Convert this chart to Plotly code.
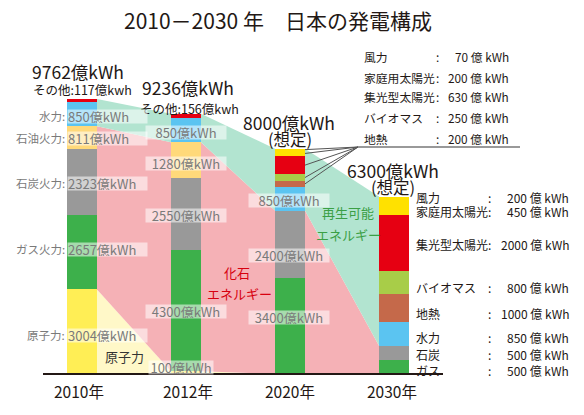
import plotly.graph_objects as go

# data (億kWh)
years = ["2010年", "2012年", "2020年", "2030年"]
totals = [9762, 9236, 8000, 6300]
nuclear = [3004, 100, 0, 0]
gas = [2657, 4300, 3400, 500]
coal = [2323, 2550, 2400, 500]
oil = [811, 1280, 0, 0]
hydro = [850, 850, 850, 850]
geothermal = [0, 0, 200, 1000]
biomass = [0, 0, 250, 800]
solar_cs = [0, 0, 630, 2000]
solar_home = [0, 0, 200, 450]
wind = [0, 0, 70, 200]
other = [117, 156, 0, 0]

FONT = "Noto Sans CJK JP"
W, H = 584, 415
OFF = 8               # page body margin
PX_CAT = 104          # px between bar centres
KWH_PX = 35.5         # 億kWh per px
BAR0 = 82             # px of first bar centre
Y_BASE = 374          # px of baseline
BW = 30 / PX_CAT

def px_x(px):
    return (px - BAR0) / PX_CAT

def px_y(py):
    return (Y_BASE - py) * KWH_PX

pos = list(range(len(years)))
segments = [
    (nuclear, "#FFEE55"), (gas, "#3DB04B"), (coal, "#999999"), (oil, "#FFD97A"),
    (hydro, "#5BC4F1"), (geothermal, "#C5694A"), (biomass, "#A8CD48"),
    (solar_cs, "#E60012"), (solar_home, "#FFE100"), (wind, "#FFE100"),
    (other, "#E60012"),
]

fig = go.Figure()

# shaded bands between bars
zeros = [0] * 4
fossil_top = [n + g + c + o for n, g, c, o in zip(nuclear, gas, coal, oil)]
top = [sum(s[0][i] for s in segments) for i in pos]
bands = [(zeros, nuclear, "#FFF8C8"), (nuclear, fossil_top, "#F5B1B6"), (fossil_top, top, "#B2E4D0")]
for i in pos[:-1]:
    xa, xb = pos[i] + BW / 2, pos[i + 1] - BW / 2
    for lo, hi, col in bands:
        fig.add_trace(go.Scatter(x=[xa, xa, xb, xb], y=[lo[i], hi[i], hi[i + 1], lo[i + 1]],
                                 fill="toself", fillcolor=col, mode="none", hoverinfo="skip"))

for vals, col in segments:
    fig.add_trace(go.Bar(x=pos, y=vals, width=BW, marker_color=col, marker_line_width=0))

# leader lines for 2020 small items
cum = 0
mids = []
for vals, col in segments:
    mids.append(cum + vals[2] / 2)
    cum += vals[2]
for k in [5, 6, 7, 8, 9]:
    fig.add_trace(go.Scatter(x=[2 + BW / 2, px_x(358)], y=[mids[k], px_y(147)], mode="lines",
                             line=dict(color="#555", width=1), hoverinfo="skip"))
fig.add_trace(go.Scatter(x=[px_x(358), px_x(520)], y=[px_y(147), px_y(147)], mode="lines",
                         line=dict(color="#777", width=1.5), hoverinfo="skip"))

fig.add_shape(type="line", x0=px_x(43), x1=px_x(443), y0=0, y1=0, line=dict(color="#231815", width=2))

anns = []

def ann(px, py, text, size=13, color="#231815", xanchor="center", **kw):
    anns.append(dict(x=(px - OFF) / W, y=1 - (py - OFF) / H, xref="paper", yref="paper", text=text,
                     showarrow=False, xanchor=xanchor, yanchor="middle",
                     font=dict(family=FONT, size=size, color=color), **kw))

BOX = dict(bgcolor="rgba(255,255,255,0.55)", borderpad=0, height=13)
GRAY = "#7a7a7a"

ann(278, 20, "2010－2030 年　日本の発電構成", 21)
ann(78, 72, f"{totals[0]}億kWh", 17.5)
ann(82, 89, f"その他:{other[0]}億kwh", 12.5)
ann(188, 88, f"{totals[1]}億kWh", 17.5)
ann(189, 108, f"その他:{other[1]}億kwh", 12.5)
ann(289, 122, f"{totals[2]}億kWh", 17.5)
ann(290, 139, "(想定)", 16.5)
ann(393, 170, f"{totals[3]}億kWh", 17.5)
ann(393, 187, "(想定)", 16.5)

# 2010 labels
for name, v, py in [("水力", hydro[0], 116), ("石油火力", oil[0], 138), ("石炭火力", coal[0], 183),
                    ("ガス火力", gas[0], 249), ("原子力", nuclear[0], 335)]:
    ann(67, py, name + ":", 11.5, GRAY, "right")
    ann(67, py, f"{v}億kWh", 13, GRAY, "left", width=79, align="left", **BOX)

# 2012 labels
for v, py in [(hydro[1], 133), (oil[1], 163), (coal[1], 215), (gas[1], 311)]:
    ann(185.5, py, f"{v}億kWh", 13, GRAY, width=80, **BOX)
ann(180.5, 367, f"{nuclear[1]}億kWh", 13, GRAY, width=64, **BOX)

# 2020 labels
for v, py in [(hydro[2], 200), (coal[2], 255), (gas[2], 317)]:
    ann(288.5, py, f"{v}億kWh", 13, GRAY, width=80, **BOX)

ann(124, 356, "原子力", 13, "#333")
ann(237, 272, "化石", 13, "#D7000F")
ann(239, 293, "エネルギー", 13, "#D7000F")
ann(348, 213, "再生可能", 13, "#3B9F45")
ann(349, 234, "エネルギー", 13, "#3B9F45")

# 2020 breakdown
for name, v, py in [("風力", wind[2], 56), ("家庭用太陽光", solar_home[2], 77), ("集光型太陽光", solar_cs[2], 97),
                    ("バイオマス", biomass[2], 118), ("地熱", geothermal[2], 138)]:
    ann(362, py, name, 11.8, xanchor="left")
    ann(437, py, ":", 11.8)
    ann(511, py, f"{v} 億 kWh", 11.8, xanchor="right")

# 2030 breakdown
for name, v, py in [("風力", wind[3], 198), ("家庭用太陽光", solar_home[3], 211), ("集光型太陽光", solar_cs[3], 244),
                    ("バイオマス", biomass[3], 287), ("地熱", geothermal[3], 313), ("水力", hydro[3], 337),
                    ("石炭", coal[3], 354), ("ガス", gas[3], 370)]:
    ann(414, py, name, 12, xanchor="left")
    ann(489, py, ":", 12)
    ann(571, py, f"{v} 億 kWh", 12, xanchor="right")

for i, yr in enumerate(years):
    ann([79, 188, 290, 392][i], 391, yr, 15.5)

fig.update_layout(
    width=W, height=H, margin=dict(l=0, r=0, t=0, b=0),
    barmode="stack", showlegend=False,
    plot_bgcolor="white", paper_bgcolor="white",
    xaxis=dict(range=[px_x(OFF), px_x(OFF + W)], visible=False, fixedrange=True),
    yaxis=dict(range=[px_y(OFF + H), px_y(OFF)], visible=False, fixedrange=True),
    annotations=anns,
)
fig.write_html("out.html")
